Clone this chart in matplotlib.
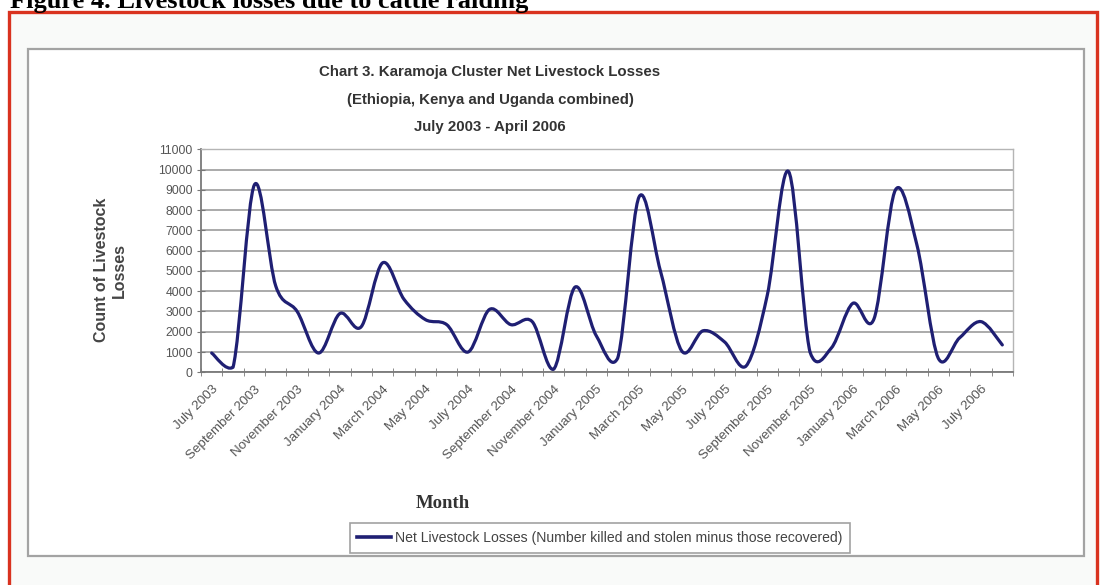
import matplotlib
matplotlib.use("Agg")
import matplotlib.pyplot as plt
from matplotlib.patches import Rectangle, PathPatch
from matplotlib.path import Path
from matplotlib.lines import Line2D

# chart data (one value per month, July 2003 - August 2006)
months = [
    "July 2003", "August 2003", "September 2003", "October 2003", "November 2003",
    "December 2003", "January 2004", "February 2004", "March 2004", "April 2004",
    "May 2004", "June 2004", "July 2004", "August 2004", "September 2004",
    "October 2004", "November 2004", "December 2004", "January 2005", "February 2005",
    "March 2005", "April 2005", "May 2005", "June 2005", "July 2005",
    "August 2005", "September 2005", "October 2005", "November 2005", "December 2005",
    "January 2006", "February 2006", "March 2006", "April 2006", "May 2006",
    "June 2006", "July 2006", "August 2006",
]
losses = [
    950, 250, 9250, 4250, 3000, 950, 2900, 2250, 5400, 3600,
    2600, 2350, 1000, 3100, 2350, 2500, 150, 4200, 1800, 700,
    8650, 5000, 1050, 2050, 1500, 300, 3800, 9900, 1000, 1200,
    3400, 2650, 9000, 6300, 700, 1700, 2500, 1350,
]
yticks = list(range(0, 11001, 1000))

caption = "Figure 4. Livestock losses due to cattle raiding"
title_lines = [
    "Chart 3. Karamoja Cluster Net Livestock Losses",
    "(Ethiopia, Kenya and Uganda combined)",
    "July 2003 - April 2006",
]
series_name = "Net Livestock Losses (Number killed and stolen minus those recovered)"

W, H = 1100, 585
fig = plt.figure(figsize=(W / 100, H / 100), dpi=100)
fig.patch.set_facecolor("white")

# red frame around the embedded chart
fig.patches.append(Rectangle((9 / W, -0.02), (1097 - 9) / W, 1 - 12 / H + 0.02,
                             transform=fig.transFigure, facecolor="#f9faf9",
                             edgecolor="#d9321f", linewidth=2.4, zorder=-3))
# chart area box
fig.patches.append(Rectangle((28 / W, 1 - 556 / H), (1084 - 28) / W, (556 - 49) / H,
                             transform=fig.transFigure, facecolor="white",
                             edgecolor="#a3a3a3", linewidth=1.6, zorder=-2))

fig.text(10 / W, 1 - 8 / H, caption, family="Liberation Serif", weight="bold",
         fontsize=19, va="baseline", ha="left")

for k, line in enumerate(title_lines):
    fig.text(490 / W, 1 - (72 + 27.5 * k) / H, line, family="Liberation Sans",
             weight="bold", fontsize=10.8, color="#333333", ha="center", va="center")

ax = fig.add_axes([201 / W, 1 - 372.3 / H, (1013 - 201) / W, (372.3 - 149.3) / H])
ax.set_facecolor("white")

x = list(range(len(losses)))

# smooth line like the spreadsheet's "smoothed line" option (Bezier through the points)
verts = [(x[0], losses[0])]
codes = [Path.MOVETO]
n = len(x)
for i in range(n - 1):
    p0 = (x[max(i - 1, 0)], losses[max(i - 1, 0)])
    p1 = (x[i], losses[i])
    p2 = (x[i + 1], losses[i + 1])
    p3 = (x[min(i + 2, n - 1)], losses[min(i + 2, n - 1)])
    c1 = (p1[0] + (p2[0] - p0[0]) / 6, max(0, p1[1] + (p2[1] - p0[1]) / 6))
    c2 = (p2[0] - (p3[0] - p1[0]) / 6, max(0, p2[1] - (p3[1] - p1[1]) / 6))
    verts += [c1, c2, p2]
    codes += [Path.CURVE4] * 3
ax.add_patch(PathPatch(Path(verts, codes), facecolor="none", edgecolor="#1f1f73",
                       linewidth=2.3, capstyle="round", joinstyle="round", zorder=3))

ax.set_xlim(-0.5, n - 0.5)
ax.set_ylim(0, 11000)
ax.set_yticks(yticks)
ax.set_yticklabels([str(v) for v in yticks], family="Liberation Sans", fontsize=8.8,
                   color="#555555")
ax.grid(axis="y", color="#9c9c9c", linewidth=1.2)
ax.set_axisbelow(True)

label_idx = list(range(0, n, 2))
ax.set_xticks(label_idx)
ax.set_xticklabels([months[i] for i in label_idx], rotation=45, ha="right", va="top",
                   rotation_mode="anchor", family="Liberation Sans", fontsize=9.6,
                   color="#555555")
ax.set_xticks([i - 0.5 for i in range(n + 1)], minor=True)
ax.tick_params(axis="x", which="major", length=0, pad=8)
ax.tick_params(axis="x", which="minor", length=6, direction="inout", color="#777777")
ax.tick_params(axis="y", length=6, direction="inout", color="#777777", pad=3)

for side in ("left", "bottom"):
    ax.spines[side].set_color("#7a7a7a")
    ax.spines[side].set_linewidth(1.3)
for side in ("top", "right"):
    ax.spines[side].set_color("#b5b5b5")
    ax.spines[side].set_linewidth(1.0)

fig.text(110 / W, 1 - 270 / H, "Count of Livestock\nLosses", rotation=90,
         family="Liberation Sans", weight="bold", fontsize=11.5, color="#444444",
         ha="center", va="center", linespacing=1.25)

fig.text(443 / W, 1 - 503 / H, "Month", family="Liberation Serif", weight="bold",
         fontsize=13.5, color="#333333", ha="center", va="center")

handle = Line2D([], [], color="#1f1f73", linewidth=2.6)
leg = fig.legend([handle], [series_name], loc="center", bbox_to_anchor=(600 / W, 1 - 538 / H),
                 frameon=True, fancybox=False, handlelength=2.4, handletextpad=0.3,
                 borderpad=0.55, prop={"family": "Liberation Sans", "size": 10.1})
leg.get_frame().set_edgecolor("#8a8a8a")
leg.get_frame().set_linewidth(1.2)
for t in leg.get_texts():
    t.set_color("#444444")

fig.savefig("out.png", dpi=100)
